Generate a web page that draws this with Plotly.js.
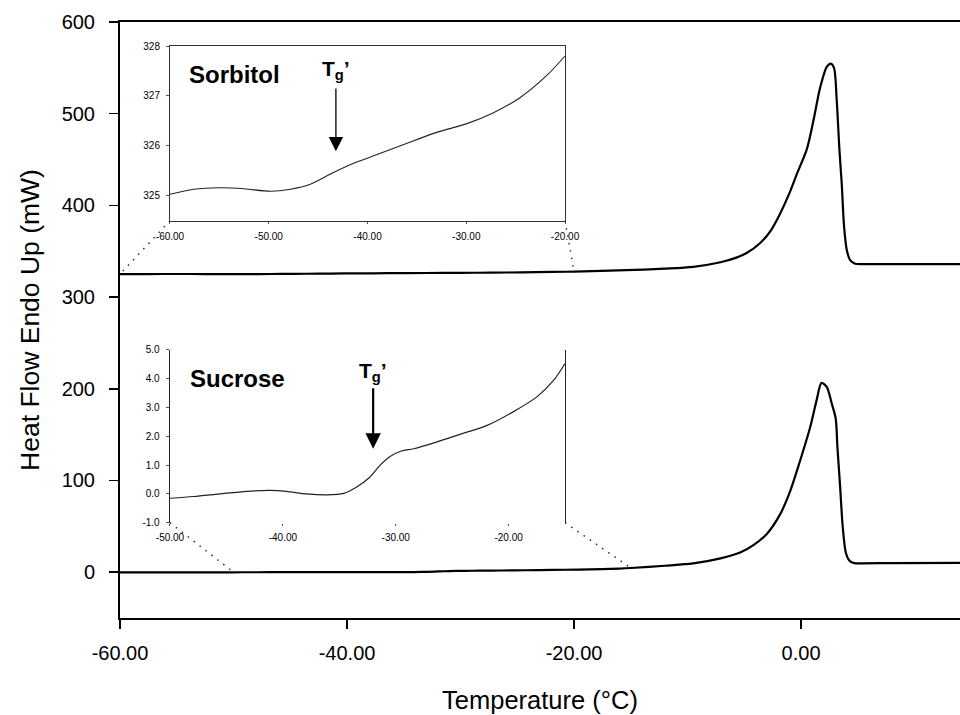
<!DOCTYPE html>
<html>
<head>
<meta charset="utf-8">
<script src="https://cdn.plot.ly/plotly-3.0.1.min.js"></script>
<style>html,body{margin:0;padding:0;background:#fff;}#chart{width:960px;height:715px;}</style>
</head>
<body>
<div id="chart"></div>
<script>
// ---- Sorbitol inset (low-temperature region) ----
var sorbInsetT = [-60, -57.6, -54.9, -52.5, -49.8, -47.8, -45.8, -43.5, -41.4, -39.1, -36.4, -33.0, -30.0, -27.3, -24.6, -21.9, -20.0];
var sorbInsetV = [325.03, 325.13, 325.16, 325.14, 325.09, 325.13, 325.23, 325.46, 325.65, 325.82, 326.02, 326.27, 326.44, 326.66, 326.96, 327.40, 327.80];

// ---- Sucrose inset (low-temperature region) ----
var sucInsetT = [-50, -47.9, -45.6, -43.2, -41.1, -39.7, -37.9, -36.1, -34.6, -33.5, -32.3, -31.4, -30.5, -29.5, -28.4, -26.4, -24.3, -21.9, -19.6, -17.5, -16.0, -15.0];
var sucInsetV = [-0.15, -0.09, 0.0, 0.09, 0.12, 0.09, 0.0, -0.03, 0.02, 0.23, 0.58, 0.99, 1.30, 1.49, 1.57, 1.80, 2.07, 2.38, 2.85, 3.37, 3.95, 4.53];

// ---- Main curves, continuation beyond inset ranges ----
var sorbMainT = [-15.4, -12, -9.5, -7.1, -5.7, -4.8, -3.6, -2.7, -1.85, -0.97, -0.38, 0.5, 1.08, 1.67, 2.26, 2.61, 2.9, 3.14, 3.38, 3.58, 3.79, 4.03, 4.32, 4.76, 5.4, 8, 14];
var sorbMainV = [329.3, 331.0, 333.0, 338.0, 343.0, 348.0, 359.0, 372.0, 391.0, 415.0, 434.0, 461.0, 492.0, 528.0, 551.0, 554.7, 550.0, 514.7, 460.2, 423.9, 376.6, 351.1, 340.2, 336.4, 335.9, 335.9, 335.9];

var sucPreT = [-60, -55];
var sucPreV = [-0.2, -0.15];
var sucMainT = [-12, -9.5, -7.1, -5.37, -4.2, -3.0, -1.85, -0.97, -0.1, 0.8, 1.37, 1.8, 2.26, 2.7, 3.05, 3.2, 3.44, 3.67, 3.96, 4.3, 4.7, 5.4, 8, 14];
var sucMainV = [7.0, 9.5, 15.0, 21.4, 29.5, 42.0, 63.0, 88.0, 121.0, 158.0, 187.6, 206.4, 202.0, 184.0, 167.6, 136.6, 93.0, 49.4, 20.4, 12.0, 9.8, 9.6, 9.9, 10.2];

// ---- Tick labels ----
var mainXTicks = [-60, -40, -20, 0];
var mainXLabels = ['-60.00', '-40.00', '-20.00', '0.00'];
var mainYTicks = [0, 100, 200, 300, 400, 500, 600];
var sorbXTicks = [-60, -50, -40, -30, -20];
var sorbXLabels = ['-60.00', '-50.00', '-40.00', '-30.00', '-20.00'];
var sorbYTicks = [325, 326, 327, 328];
var sucXTicks = [-50, -40, -30, -20];
var sucXLabels = ['-50.00', '-40.00', '-30.00', '-20.00'];
var sucYTicks = [-1, 0, 1, 2, 3, 4, 5];
var sucYLabels = ['-1.0', '0.0', '1.0', '2.0', '3.0', '4.0', '5.0'];

// Tg' arrow positions (inset data coordinates)
var sorbTg = {x: -43.2, tip: 325.89, label: 327.52};
var sucTg = {x: -32.0, tip: 1.57, label: 4.24};

var FONT = 'Liberation Sans, Arial, sans-serif';

var mainXRange = [-60, 14];
var mainYRange = [-50, 600];
var insetXDomain = [0.0595, 0.5298];
var sorbYDomain = [0.6666, 0.9597];
var sucYDomain = [0.1599, 0.4497];
var sorbXRange = [-60, -20], sorbYRange = [324.5, 328];
var sucXRange = [-50, -15], sucYRange = [-1, 5];

function paperToDataX(p) { return mainXRange[0] + p * (mainXRange[1] - mainXRange[0]); }
function paperToDataY(p) { return mainYRange[0] + p * (mainYRange[1] - mainYRange[0]); }

var traces = [
  {x: sorbInsetT.concat(sorbMainT), y: sorbInsetV.concat(sorbMainV), type: 'scatter', mode: 'lines',
   line: {color: '#000', width: 2.2, shape: 'spline', smoothing: 0.8}, xaxis: 'x', yaxis: 'y'},
  {x: sucPreT.concat(sucInsetT, sucMainT), y: sucPreV.concat(sucInsetV, sucMainV), type: 'scatter', mode: 'lines',
   line: {color: '#000', width: 2.2, shape: 'spline', smoothing: 0.8}, xaxis: 'x', yaxis: 'y'},
  {x: sorbInsetT, y: sorbInsetV, type: 'scatter', mode: 'lines',
   line: {color: '#222', width: 1.1, shape: 'spline', smoothing: 0.8}, xaxis: 'x2', yaxis: 'y2'},
  {x: sucInsetT, y: sucInsetV, type: 'scatter', mode: 'lines',
   line: {color: '#222', width: 1.2, shape: 'spline', smoothing: 0.8}, xaxis: 'x3', yaxis: 'y3'}
];

// Dotted connectors from inset corners to the zoomed regions on the main curves
var shapes = [
  {x0: paperToDataX(insetXDomain[0]), y0: paperToDataY(sorbYDomain[0]), x1: sorbXRange[0], y1: sorbInsetV[0]},
  {x0: paperToDataX(insetXDomain[1]), y0: paperToDataY(sorbYDomain[0]), x1: sorbXRange[1], y1: sorbInsetV[sorbInsetV.length - 1]},
  {x0: paperToDataX(insetXDomain[0]), y0: paperToDataY(sucYDomain[0]), x1: sucXRange[0], y1: 0},
  {x0: paperToDataX(insetXDomain[1]), y0: paperToDataY(sucYDomain[0]), x1: sucXRange[1], y1: sucInsetV[sucInsetV.length - 1]}
].map(function (s) {
  return {type: 'line', xref: 'x', yref: 'y', x0: s.x0, y0: s.y0, x1: s.x1, y1: s.y1,
          line: {color: '#333', width: 1.5, dash: '1.5px,6px'}};
});

var annotations = [
  {xref: 'x2', yref: 'y2', x: -58.3, y: 327.43, xanchor: 'left', yanchor: 'middle', showarrow: false,
   text: '<b>Sorbitol</b>', font: {family: FONT, size: 24, color: '#000'}},
  {xref: 'x3', yref: 'y3', x: -48.4, y: 4.02, xanchor: 'left', yanchor: 'middle', showarrow: false,
   text: '<b>Sucrose</b>', font: {family: FONT, size: 24, color: '#000'}},
  {xref: 'x2', yref: 'y2', axref: 'x2', ayref: 'y2', x: sorbTg.x, y: sorbTg.tip, ax: sorbTg.x, ay: sorbTg.label,
   text: '<b>T<sub>g</sub>’</b>', font: {family: FONT, size: 21, color: '#000'},
   showarrow: true, arrowhead: 2, arrowsize: 2.2, arrowwidth: 1.3, arrowcolor: '#000', standoff: 0, startstandoff: 4},
  {xref: 'x3', yref: 'y3', axref: 'x3', ayref: 'y3', x: sucTg.x, y: sucTg.tip, ax: sucTg.x, ay: sucTg.label,
   text: '<b>T<sub>g</sub>’</b>', font: {family: FONT, size: 21, color: '#000'},
   showarrow: true, arrowhead: 2, arrowsize: 1.4, arrowwidth: 2.2, arrowcolor: '#000', standoff: 0, startstandoff: 2}
];

var layout = {
  width: 960, height: 715,
  margin: {l: 120, r: 0, t: 22, b: 97, pad: 0},
  paper_bgcolor: '#fff', plot_bgcolor: '#fff',
  showlegend: false,
  font: {family: FONT, color: '#000'},
  xaxis: {
    range: mainXRange, domain: [0, 1], anchor: 'y',
    tickvals: mainXTicks, ticktext: mainXLabels,
    showline: true, linecolor: '#000', linewidth: 2, mirror: true,
    ticks: 'outside', ticklen: 9, tickwidth: 1.5, tickcolor: '#000',
    ticklabelstandoff: 7,
    showgrid: false, zeroline: false,
    tickfont: {family: FONT, size: 20, color: '#000'},
    title: {text: 'Temperature (°C)', font: {family: FONT, size: 25.5, color: '#000'}, standoff: 28}
  },
  yaxis: {
    range: mainYRange, domain: [0, 1], anchor: 'x',
    tickvals: mainYTicks,
    showline: true, linecolor: '#000', linewidth: 2,
    ticks: 'outside', ticklen: 9, tickwidth: 1.5, tickcolor: '#000',
    ticklabelstandoff: 10,
    showgrid: false, zeroline: false,
    tickfont: {family: FONT, size: 20, color: '#000'},
    title: {text: 'Heat Flow Endo Up (mW)', font: {family: FONT, size: 26.5, color: '#000'}, standoff: 14}
  },
  xaxis2: {
    range: sorbXRange, domain: insetXDomain, anchor: 'y2',
    tickvals: sorbXTicks, ticktext: sorbXLabels,
    showline: true, linecolor: '#333', linewidth: 1, mirror: true,
    ticks: 'outside', ticklen: 2, tickcolor: '#555', tickwidth: 1,
    ticklabelstandoff: 4,
    showgrid: false, zeroline: false,
    tickfont: {family: FONT, size: 10, color: '#000'}
  },
  yaxis2: {
    range: sorbYRange, domain: sorbYDomain, anchor: 'x2',
    tickvals: sorbYTicks,
    showline: true, linecolor: '#333', linewidth: 1, mirror: true,
    ticks: 'outside', ticklen: 3, tickcolor: '#555', tickwidth: 1,
    ticklabelstandoff: 4,
    showgrid: false, zeroline: false,
    tickfont: {family: FONT, size: 10, color: '#000'}
  },
  xaxis3: {
    range: sucXRange, domain: insetXDomain, anchor: 'y3',
    tickvals: sucXTicks, ticktext: sucXLabels,
    showline: false,
    ticks: 'outside', ticklen: 2, tickcolor: '#555', tickwidth: 1,
    ticklabelstandoff: 3,
    showgrid: false, zeroline: false,
    tickfont: {family: FONT, size: 10, color: '#000'}
  },
  yaxis3: {
    range: sucYRange, domain: sucYDomain, anchor: 'x3',
    tickvals: sucYTicks, ticktext: sucYLabels,
    showline: true, linecolor: '#222', linewidth: 1.3, mirror: true,
    ticks: 'outside', ticklen: 3, tickcolor: '#555', tickwidth: 1,
    ticklabelstandoff: 4,
    showgrid: false, zeroline: false,
    tickfont: {family: FONT, size: 10, color: '#000'}
  },
  shapes: shapes,
  annotations: annotations
};

Plotly.newPlot('chart', traces, layout, {displayModeBar: false, staticPlot: true});
</script>
</body>
</html>
